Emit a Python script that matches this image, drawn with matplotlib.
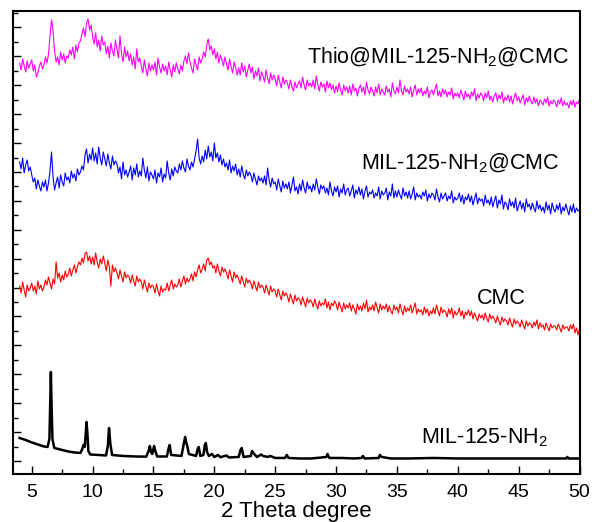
import numpy as np
import matplotlib
matplotlib.use("Agg")
import matplotlib.pyplot as plt
from matplotlib.ticker import MultipleLocator

plt.rcParams["font.family"] = ["Liberation Sans", "DejaVu Sans"]
plt.rcParams["mathtext.fontset"] = "custom"
plt.rcParams["mathtext.rm"] = "Liberation Sans"
plt.rcParams["mathtext.it"] = "Liberation Sans:italic"

# amorphous scans: 4..50 deg, 0.125 deg step, one row per degree
# stacked intensities (a.u., offsets already included)
thio_mil_cmc = [
    398, 391, 402, 395, 389, 400, 393, 397,
    401, 390, 396, 384, 388, 395, 399, 392,
    396, 404, 398, 407, 425, 441, 430, 410,
    399, 404, 396, 409, 401, 407, 398, 405,
    403, 411, 406, 414, 402, 416, 409, 418,
    420, 427, 433, 424, 438, 442, 431, 436,
    424, 417, 428, 414, 421, 410, 425, 416,
    419, 407, 415, 403, 418, 410, 405, 421,
    412, 403, 425, 407, 399, 414, 404, 410,
    400, 407, 396, 404, 392, 412, 399, 403,
    395, 388, 401, 392, 385, 398, 390, 396,
    391, 399, 386, 403, 394, 388, 397, 390,
    395, 386, 399, 391, 384, 396, 389, 398,
    392, 387, 396, 390, 400, 405, 397, 408,
    399, 393, 388, 402, 396, 391, 404, 398,
    402, 409, 404, 416, 422, 411, 415, 406,
    412, 402, 409, 398, 406, 401, 395, 404,
    397, 391, 402, 394, 388, 399, 393, 386,
    393, 386, 398, 389, 395, 384, 391, 397,
    388, 394, 382, 390, 385, 393, 380, 389,
    385, 379, 391, 383, 377, 388, 381, 386,
    382, 375, 386, 379, 373, 384, 377, 381,
    378, 372, 381, 374, 370, 379, 373, 377,
    380, 373, 384, 376, 371, 381, 375, 378,
    374, 381, 372, 385, 376, 370, 379, 374,
    377, 369, 380, 373, 378, 371, 376, 368,
    375, 369, 378, 371, 366, 376, 370, 374,
    368, 375, 366, 377, 370, 373, 365, 372,
    376, 369, 374, 366, 379, 371, 367, 374,
    370, 365, 374, 368, 377, 366, 372, 369,
    366, 375, 369, 372, 364, 378, 370, 367,
    374, 368, 381, 370, 366, 375, 369, 372,
    367, 374, 364, 371, 376, 366, 372, 368,
    373, 365, 370, 367, 374, 363, 369, 371,
    366, 372, 377, 365, 370, 364, 372, 367,
    371, 364, 369, 366, 373, 362, 368, 365,
    368, 363, 371, 366, 361, 370, 364, 367,
    362, 369, 365, 372, 360, 367, 363, 368,
    366, 360, 368, 363, 370, 361, 365, 359,
    365, 368, 360, 366, 362, 369, 358, 364,
    361, 366, 359, 365, 357, 363, 368, 360,
    364, 358, 362, 366, 356, 363, 359, 365,
    360, 357, 364, 358, 362, 355, 361, 359,
    356, 362, 358, 364, 355, 360, 357, 361,
    359, 354, 361, 357, 363, 355, 360, 356,
    358, 353, 360, 356, 361, 354, 359, 357,
    362,
]
mil_cmc = [
    299, 292, 303, 288, 296, 301, 290, 294,
    286, 279, 283, 272, 281, 275, 270, 279,
    274, 281, 270, 278, 290, 309, 284, 271,
    278, 284, 273, 286, 279, 275, 288, 281,
    284, 278, 290, 283, 287, 280, 292, 286,
    289, 295, 291, 306, 312, 298, 307, 301,
    313, 300, 308, 297, 314, 303, 296, 309,
    302, 295, 307, 298, 292, 305, 296, 300,
    297, 288, 294, 282, 299, 286, 291, 284,
    289, 295, 281, 293, 286, 297, 284, 290,
    285, 303, 291, 283, 294, 280, 289, 286,
    282, 291, 278, 288, 284, 293, 279, 287,
    283, 300, 288, 281, 292, 285, 294, 290,
    288, 297, 291, 300, 293, 289, 302, 295,
    291, 299, 294, 302, 310, 322, 303, 297,
    305, 299, 311, 302, 315, 304, 309, 300,
    318, 303, 308, 299, 306, 296, 302, 294,
    298, 291, 301, 288, 295, 290, 297, 286,
    292, 284, 295, 287, 282, 291, 285, 289,
    286, 279, 288, 282, 276, 285, 280, 283,
    278, 285, 276, 293, 281, 274, 283, 277,
    279, 271, 282, 275, 269, 280, 273, 277,
    272, 279, 268, 276, 284, 270, 274, 267,
    277, 270, 281, 273, 268, 279, 272, 275,
    269, 277, 271, 282, 274, 267, 276, 272,
    275, 268, 273, 266, 279, 270, 265, 274,
    269, 275, 264, 272, 268, 277, 266, 271,
    273, 265, 270, 276, 263, 271, 267, 274,
    266, 272, 262, 270, 275, 264, 269, 267,
    271, 263, 268, 265, 274, 262, 270, 266,
    268, 273, 261, 269, 265, 277, 263, 270,
    264, 271, 266, 262, 273, 265, 269, 263,
    270, 262, 267, 274, 261, 268, 264, 266,
    262, 269, 265, 271, 260, 267, 263, 268,
    266, 261, 272, 264, 259, 268, 262, 265,
    268, 260, 265, 262, 270, 258, 264, 261,
    263, 268, 259, 266, 257, 264, 261, 267,
    259, 265, 256, 262, 268, 257, 263, 260,
    262, 255, 266, 258, 261, 256, 264, 254,
    260, 265, 253, 261, 257, 266, 252, 259,
    257, 251, 262, 255, 259, 253, 263, 250,
    255, 260, 252, 258, 249, 262, 254, 257,
    251, 258, 253, 249, 260, 252, 256, 250,
    254, 248, 259, 251, 256, 247, 258, 252,
    249, 256, 251, 258, 247, 254, 250, 257,
    251, 246, 255, 249, 257, 248, 253, 250,
    251,
]
cmc = [
    175, 168, 179, 171, 164, 176, 170, 173,
    178, 170, 175, 167, 180, 172, 176, 170,
    174, 181, 176, 184, 178, 172, 182, 177,
    199, 183, 188, 179, 186, 181, 190, 184,
    187, 193, 185, 191, 196, 188, 194, 199,
    196, 203, 198, 207, 209, 200, 205, 197,
    204, 196, 208, 199, 193, 202, 197, 205,
    198, 190, 201, 194, 175, 196, 189, 193,
    188, 182, 191, 185, 179, 189, 183, 186,
    184, 178, 186, 180, 175, 185, 179, 182,
    179, 172, 181, 175, 169, 178, 173, 176,
    174, 168, 177, 170, 165, 175, 169, 172,
    171, 178, 170, 176, 181, 172, 177, 174,
    176, 182, 174, 180, 185, 177, 183, 179,
    182, 187, 180, 189, 184, 191, 196, 188,
    192, 197, 190, 201, 203, 196, 199, 193,
    195, 188, 197, 190, 185, 194, 189, 192,
    188, 182, 191, 185, 179, 189, 183, 186,
    182, 177, 185, 179, 174, 183, 178, 181,
    178, 172, 180, 175, 170, 179, 173, 176,
    174, 168, 176, 171, 166, 175, 169, 172,
    170, 164, 172, 166, 161, 170, 165, 168,
    165, 159, 167, 162, 157, 166, 160, 163,
    162, 156, 164, 159, 154, 163, 158, 161,
    159, 154, 162, 156, 152, 160, 155, 158,
    156, 162, 153, 159, 151, 158, 155, 160,
    157, 151, 159, 154, 149, 158, 152, 156,
    153, 158, 150, 156, 152, 147, 157, 151,
    155, 150, 158, 152, 161, 149, 154, 151,
    156, 150, 159, 153, 148, 157, 151, 155,
    152, 157, 149, 155, 150, 147, 156, 151,
    154, 148, 157, 151, 146, 155, 149, 153,
    150, 156, 148, 153, 158, 147, 152, 149,
    151, 146, 154, 148, 152, 145, 150, 147,
    153, 147, 156, 150, 145, 154, 148, 151,
    149, 144, 152, 147, 153, 143, 150, 146,
    148, 153, 145, 150, 142, 149, 146, 151,
    145, 150, 142, 148, 144, 140, 147, 143,
    146, 141, 148, 143, 139, 147, 142, 145,
    142, 138, 145, 140, 136, 144, 139, 142,
    140, 136, 143, 138, 134, 142, 137, 140,
    138, 134, 141, 136, 132, 140, 135, 138,
    137, 133, 139, 135, 141, 132, 138, 134,
    136, 131, 138, 134, 130, 137, 133, 135,
    135, 131, 137, 133, 129, 136, 132, 134,
    134, 130, 136, 132, 137, 128, 133, 126,
    133,
]

# crystalline MIL-125-NH2 pattern (irregular steps around the peaks)
mil_x = [
    4.0, 4.5, 5.0, 5.5, 6.0, 6.3, 6.45, 6.52, 6.57, 6.62, 6.7, 6.85,
    7.5, 8.0, 8.5, 9.0, 9.15, 9.25, 9.35, 9.45, 9.5, 9.57, 9.65, 9.8,
    10.5, 11.1, 11.25, 11.35, 11.45, 11.6, 12.5, 13.5, 14.4, 14.6, 14.7,
    14.8, 14.9, 15.05, 15.15, 15.3, 16.1, 16.25, 16.33, 16.45, 17.3,
    17.5, 17.6, 17.7, 17.8, 17.9, 18.5, 18.65, 18.72, 18.85, 19.1,
    19.22, 19.3, 19.4, 19.55, 19.8, 20.0, 20.3, 20.5, 21.0, 21.2, 22.0,
    22.15, 22.25, 22.4, 23.0, 23.1, 23.2, 23.35, 23.5, 23.85, 24.0,
    24.4, 24.6, 25.0, 25.8, 25.95, 26.1, 27.0, 28.0, 29.2, 29.3, 29.45,
    30.5, 31.5, 32.1, 32.2, 32.35, 33.5, 33.6, 33.75, 34.5, 36.0, 38.0,
    40.0, 42.0, 45.0, 47.0, 48.9, 49.0, 49.1, 50.0,
]
mil_y = [
    23, 21, 18.5, 16.5, 14.5, 14, 22, 60, 89, 60, 22, 13,
    11, 9.5, 8.5, 8, 12, 16, 14, 30, 39, 28, 10, 6.5,
    6, 5.5, 15, 33, 18, 6, 5, 4.5, 4.3, 10, 15,
    9, 7, 15, 10, 4.5, 4.5, 13, 16, 6, 5,
    18, 24, 18, 14, 7, 5, 13, 14, 5, 6,
    16, 18, 9, 5, 7, 4, 6, 3.8, 5.5, 3.5, 4,
    11, 13, 4, 5, 10, 8, 6, 4, 6.5, 5,
    4, 5, 3, 3, 6, 3, 2.5, 2.5, 4, 7, 3,
    3, 2.5, 3, 5, 2.5, 3, 6, 4, 2.5, 2.5, 3,
    2.5, 2.5, 2.5, 2.5, 2.5, 4, 2.5, 2.5,
]

labels = ["Thio@MIL-125-NH$_2$@CMC", "MIL-125-NH$_2$@CMC", "CMC", "MIL-125-NH$_2$"]
label_x = [49.1, 48.3, 45.6, 47.4]
label_y = [404, 298, 162, 23]


def scan_x(values):
    return np.linspace(4.0, 50.0, len(values))


fig = plt.figure(figsize=(5.92, 5.22), dpi=100)
ax = fig.add_axes([0.0228, 0.092, 0.9561, 0.887])

ax.plot(mil_x, mil_y, color="black", lw=1.8)
ax.plot(scan_x(cmc), cmc, color="#FF0000", lw=0.8)
ax.plot(scan_x(mil_cmc), mil_cmc, color="#0000FF", lw=0.8)
ax.plot(scan_x(thio_mil_cmc), thio_mil_cmc, color="#FF00FF", lw=0.8)

for txt, lx, ly in zip(labels, label_x, label_y):
    ax.text(lx, ly, txt, ha="right", va="center", fontsize=15.5)

ax.set_xlim(3.5, 50)
ax.set_ylim(-13, 450)
ax.xaxis.set_major_locator(MultipleLocator(5))
ax.xaxis.set_minor_locator(MultipleLocator(2.5))
ax.yaxis.set_major_locator(MultipleLocator(28.9))
ax.yaxis.set_minor_locator(MultipleLocator(14.45))
ax.set_yticklabels([])
ax.tick_params(which="both", direction="in", top=False, right=False, width=1)
ax.tick_params(which="major", length=6, labelsize=14, pad=7)
ax.tick_params(which="minor", length=3.5)
for s in ax.spines.values():
    s.set_linewidth(1.5)

ax.set_xlabel("2 Theta degree", fontsize=16, labelpad=0)

fig.savefig("out.png", dpi=100)
